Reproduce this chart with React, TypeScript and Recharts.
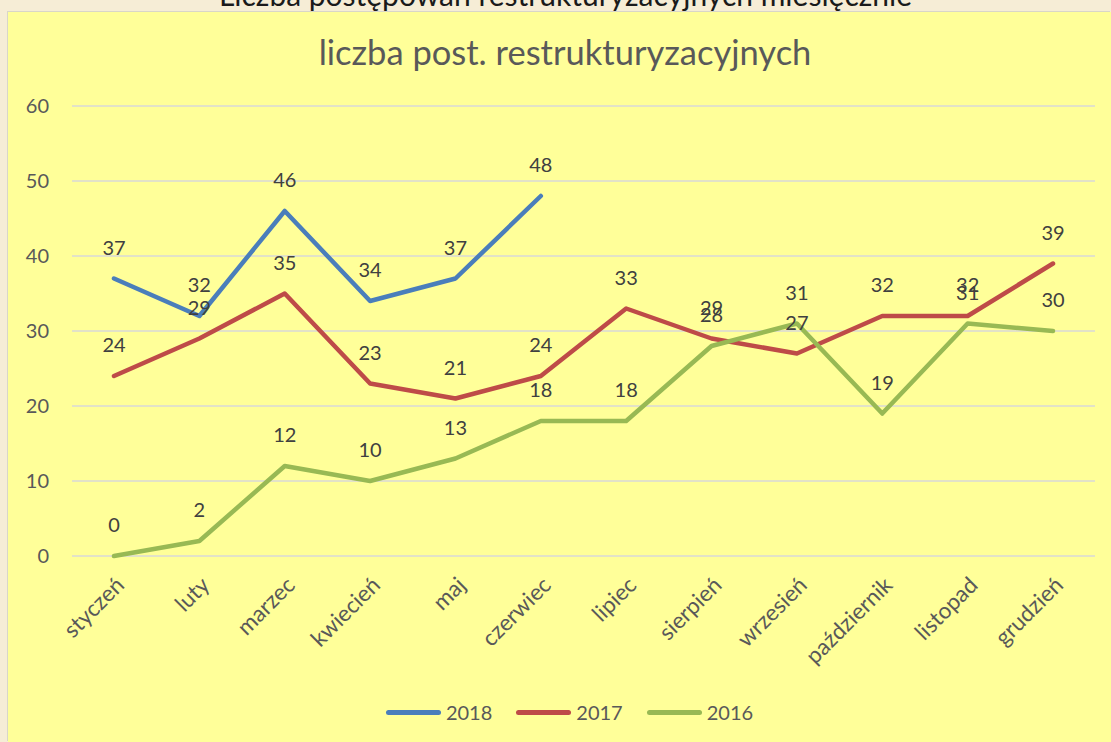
import React from 'react';
import { LineChart, Line, XAxis, YAxis, CartesianGrid, LabelList, Legend } from 'recharts';

const months = ['styczeń', 'luty', 'marzec', 'kwiecień', 'maj', 'czerwiec', 'lipiec', 'sierpień', 'wrzesień', 'październik', 'listopad', 'grudzień'];
const values2018 = [37, 32, 46, 34, 37, 48, null, null, null, null, null, null];
const values2017 = [24, 29, 35, 23, 21, 24, 33, 29, 27, 32, 32, 39];
const values2016 = [0, 2, 12, 10, 13, 18, 18, 28, 31, 19, 31, 30];
const yTicks = [0, 10, 20, 30, 40, 50, 60];

const FONT = 'Lato, "Open Sans", sans-serif';
const TEXT = '#595959';

const SERIES = [
  { key: 'y2018', name: '2018', color: '#4A7EBB' },
  { key: 'y2017', name: '2017', color: '#BE4B48' },
  { key: 'y2016', name: '2016', color: '#98B954' },
];

const data = months.map((m, i) => ({
  month: m,
  y2018: values2018[i],
  y2017: values2017[i],
  y2016: values2016[i],
}));

const MonthTick = (props: any) => {
  const { x, y, payload } = props;
  const ax = x + 6;
  const ay = y + 5;
  return (
    <text
      x={ax}
      y={ay}
      dy="0.35em"
      textAnchor="end"
      fontSize={22.5}
      fill={TEXT}
      fontFamily={FONT}
      transform={`rotate(-45, ${ax}, ${ay})`}
    >
      {payload.value}
    </text>
  );
};

const PointLabel = (props: any) => {
  const { x, y, value } = props;
  if (value === null || value === undefined) return null;
  return (
    <text x={x} y={y - 24} textAnchor="middle" fontSize={20} fill="#404040" fontFamily={FONT}>
      {value}
    </text>
  );
};

const LegendBox = () => (
  <div style={{ display: 'flex', justifyContent: 'center', alignItems: 'center', height: 24, paddingLeft: 44 }}>
    {SERIES.map((s) => (
      <div key={s.key} style={{ display: 'flex', alignItems: 'center', marginRight: 24 }}>
        <div style={{ width: 55, height: 5, borderRadius: 3, background: s.color, marginRight: 5 }} />
        <span style={{ fontSize: 20, color: TEXT, fontFamily: FONT }}>{s.name}</span>
      </div>
    ))}
  </div>
);

export default function App() {
  return (
    <div style={{ position: 'absolute', left: 0, top: 0, width: 1111, height: 742, background: '#F6EDD6', overflow: 'hidden', fontFamily: FONT }}>
      <div style={{ position: 'absolute', left: 10, top: -23, width: 1111, textAlign: 'center', fontSize: 30, color: '#1a1a1a', lineHeight: '34px' }}>
        Liczba postępowań restrukturyzacyjnych miesięcznie
      </div>
      <div style={{ position: 'absolute', left: 8, top: 12, width: 1103, height: 730, background: '#FFFF99', boxShadow: '-1px -1px 0 #D9D6C8' }}>
        <div style={{ position: 'absolute', left: 0, top: 20, width: 1114, textAlign: 'center', fontSize: 34.5, lineHeight: '40px', color: TEXT }}>
          liczba post. restrukturyzacyjnych
        </div>
        <LineChart width={1103} height={730} data={data} margin={{ top: 94, right: 16, left: 0, bottom: 0 }}>
          <CartesianGrid vertical={false} stroke="#D9D9D9" strokeWidth={1.5} />
          <XAxis dataKey="month" axisLine={false} tickLine={false} interval={0} height={162} tick={<MonthTick />} tickMargin={14} padding={{ left: 42, right: 42 }} />
          <YAxis domain={[0, 60]} ticks={yTicks} axisLine={false} tickLine={false} width={64} tickMargin={17} tick={{ fontSize: 20, fill: TEXT, fontFamily: FONT }} />
          <Legend content={<LegendBox />} verticalAlign="bottom" height={24} wrapperStyle={{ left: 0, top: 688, width: 1103 }} />
          {SERIES.map((s) => (
            <Line
              key={s.key}
              type="linear"
              dataKey={s.key}
              name={s.name}
              stroke={s.color}
              strokeWidth={4.5}
              strokeLinecap="round"
              strokeLinejoin="round"
              dot={false}
              activeDot={false}
              isAnimationActive={false}
            >
              <LabelList dataKey={s.key} content={<PointLabel />} />
            </Line>
          ))}
        </LineChart>
      </div>
    </div>
  );
}
